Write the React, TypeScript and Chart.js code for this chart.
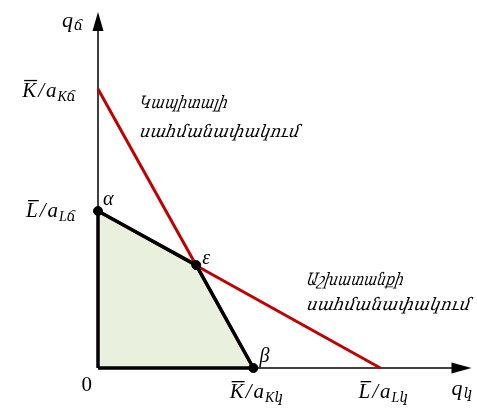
import React, { useEffect, useRef } from "react";
import { Chart, registerables } from "chart.js";

Chart.register(...registerables);

// ---- data (axis units) ----
const axisMax = [10, 10]; // x, y
const capitalX = [0, 4.16];
const capitalY = [7.84, 0];
const labourX = [0, 7.56];
const labourY = [4.41, 0];
const frontierX = [0, 0, 2.63, 4.16, 0];
const frontierY = [0, 4.41, 2.89, 0, 0];
const cornerNames = ["α", "ε", "β"];
const cornerX = [0, 2.63, 4.16];
const cornerY = [4.41, 2.89, 0];
const xAxisTitle = ["q", "կ"];
const yAxisTitle = ["q", "ճ"];
const xTickLetters = ["K", "L"];
const xTickSubs = ["Kկ", "Lկ"];
const xTickValues = [4.16, 7.56];
const yTickLetters = ["K", "L"];
const yTickSubs = ["Kճ", "Lճ"];
const yTickValues = [7.84, 4.41];
const capitalLabel = ["Կապիտալի", "սահմանափակում"];
const labourLabel = ["Աշխատանքի", "սահմանափակում"];

const RED = "#c00000";
const FILL = "#e9f1de";
const MATH = '"Liberation Serif", "DejaVu Serif", serif';

const pts = (xs: number[], ys: number[]) => xs.map((x, i) => ({ x, y: ys[i] }));

function mathFrac(ctx: CanvasRenderingContext2D, letter: string, sub: string, x: number, y: number, align: string) {
  const big = `italic 21px ${MATH}`;
  const small = `italic 14px ${MATH}`;
  ctx.font = big;
  const wL = ctx.measureText(letter).width;
  const wS = ctx.measureText("/").width;
  const wA = ctx.measureText("a").width;
  ctx.font = small;
  const wSub = ctx.measureText(sub).width;
  const total = wL + 2 + wS + 2 + wA + 1 + wSub;
  let x0 = x;
  if (align === "center") x0 = x - total / 2;
  if (align === "right") x0 = x - total;
  ctx.textAlign = "left";
  ctx.textBaseline = "alphabetic";
  ctx.font = big;
  ctx.fillText(letter, x0, y);
  ctx.fillRect(x0 + 2, y - 17, wL - 1, 1.3);
  ctx.fillText("/", x0 + wL + 2, y);
  ctx.fillText("a", x0 + wL + 2 + wS + 2, y);
  ctx.font = small;
  ctx.fillText(sub, x0 + wL + 2 + wS + 2 + wA + 1, y + 4);
}

function qLabel(ctx: CanvasRenderingContext2D, parts: string[], x: number, y: number) {
  ctx.textAlign = "left";
  ctx.textBaseline = "alphabetic";
  ctx.font = `italic 22px ${MATH}`;
  const w = ctx.measureText(parts[0]).width;
  ctx.fillText(parts[0], x, y);
  ctx.font = `italic 14px ${MATH}`;
  ctx.fillText(parts[1], x + w + 1, y + 3);
}

function stretchText(ctx: CanvasRenderingContext2D, text: string, x: number, y: number, width: number) {
  ctx.font = 'italic 17px "DejaVu Serif", serif';
  ctx.textAlign = "left";
  ctx.textBaseline = "alphabetic";
  const w = ctx.measureText(text).width;
  ctx.save();
  ctx.translate(x, y);
  ctx.transform(width / w, 0, -0.18, 1, 0, 0);
  ctx.fillText(text, 0, 0);
  ctx.restore();
}

const annotate = {
  id: "annotate",
  afterDatasetsDraw(chart: any) {
    const ctx: CanvasRenderingContext2D = chart.ctx;
    const xs = chart.scales.x;
    const ys = chart.scales.y;
    const ox = xs.getPixelForValue(0);
    const oy = ys.getPixelForValue(0);
    const xe = xs.getPixelForValue(axisMax[0]);
    const ye = ys.getPixelForValue(axisMax[1]);
    ctx.save();
    ctx.fillStyle = "#000";
    // arrowheads
    ctx.beginPath();
    ctx.moveTo(xe, oy);
    ctx.lineTo(xe - 20, oy - 5.5);
    ctx.lineTo(xe - 20, oy + 5.5);
    ctx.closePath();
    ctx.fill();
    ctx.beginPath();
    ctx.moveTo(ox, ye);
    ctx.lineTo(ox - 5.5, ye + 19);
    ctx.lineTo(ox + 5.5, ye + 19);
    ctx.closePath();
    ctx.fill();

    // axis titles
    qLabel(ctx, yAxisTitle, ox - 36, ye + 15);
    qLabel(ctx, xAxisTitle, xe - 20, oy + 27);
    // origin
    ctx.font = `21px ${MATH}`;
    ctx.textAlign = "right";
    ctx.fillText("0", ox - 6, oy + 23);
    // tick labels
    xTickValues.forEach((v, i) => {
      mathFrac(ctx, xTickLetters[i], xTickSubs[i], xs.getPixelForValue(v) + 3, oy + 30, "center");
    });
    yTickValues.forEach((v, i) => {
      mathFrac(ctx, yTickLetters[i], yTickSubs[i], ox - 22, ys.getPixelForValue(v) + (i === 0 ? 8 : 6), "right");
    });
    // corner names
    ctx.font = `italic 20px ${MATH}`;
    ctx.textAlign = "left";
    const off = [[5, -6], [6, -1], [6, -6]];
    cornerNames.forEach((n, i) => {
      ctx.fillText(n, xs.getPixelForValue(cornerX[i]) + off[i][0], ys.getPixelForValue(cornerY[i]) + off[i][1]);
    });
    // armenian labels
    stretchText(ctx, capitalLabel[0], 139, 108, 88);
    stretchText(ctx, capitalLabel[1], 139, 137, 160);
    stretchText(ctx, labourLabel[0], 306, 285, 97);
    stretchText(ctx, labourLabel[1], 306, 310, 164);
    ctx.restore();
  },
};

export default function App() {
  const ref = useRef<HTMLCanvasElement | null>(null);
  useEffect(() => {
    if (!ref.current) return;
    const chart = new Chart(ref.current, {
      type: "scatter",
      data: {
        datasets: [
          {
            data: pts(frontierX.slice(1, 4), frontierY.slice(1, 4)),
            showLine: true,
            fill: "origin",
            backgroundColor: FILL,
            borderWidth: 0,
            pointRadius: 0,
            order: 10,
            clip: false,
          } as any,
          {
            data: pts([0, axisMax[0] - 0.3], [0, 0]),
            showLine: true,
            borderColor: "#000",
            borderWidth: 1.5,
            pointRadius: 0,
            order: 9,
            clip: false,
          },
          {
            data: pts([0, 0], [0, axisMax[1] - 0.3]),
            showLine: true,
            borderColor: "#000",
            borderWidth: 1.5,
            pointRadius: 0,
            order: 9,
            clip: false,
          },
          {
            data: pts(capitalX, capitalY),
            showLine: true,
            borderColor: RED,
            borderWidth: 3,
            pointRadius: 0,
            order: 8,
            clip: false,
          },
          {
            data: pts(labourX, labourY),
            showLine: true,
            borderColor: RED,
            borderWidth: 3,
            pointRadius: 0,
            order: 8,
            clip: false,
          },
          {
            data: pts(frontierX, frontierY),
            showLine: true,
            borderColor: "#000",
            borderWidth: 3.5,
            borderJoinStyle: "round",
            pointRadius: 0,
            order: 7,
            clip: false,
          } as any,
          {
            data: pts(cornerX, cornerY),
            showLine: false,
            backgroundColor: "#000",
            borderColor: "#000",
            pointRadius: 4.5,
            order: 1,
            clip: false,
          },
        ],
      },
      options: {
        animation: false,
        responsive: false,
        events: [],
        layout: { padding: { left: 98, right: 2, top: 12, bottom: 42 } },
        plugins: { legend: { display: false }, tooltip: { enabled: false } },
        scales: {
          x: { type: "linear", min: 0, max: axisMax[0], display: false },
          y: { type: "linear", min: 0, max: axisMax[1], display: false },
        },
      },
      plugins: [annotate],
    });
    return () => chart.destroy();
  }, []);
  return (
    <div style={{ position: "fixed", left: 0, top: 0, width: 477, height: 410, background: "#fff" }}>
      <canvas ref={ref} width={477} height={410} />
    </div>
  );
}
